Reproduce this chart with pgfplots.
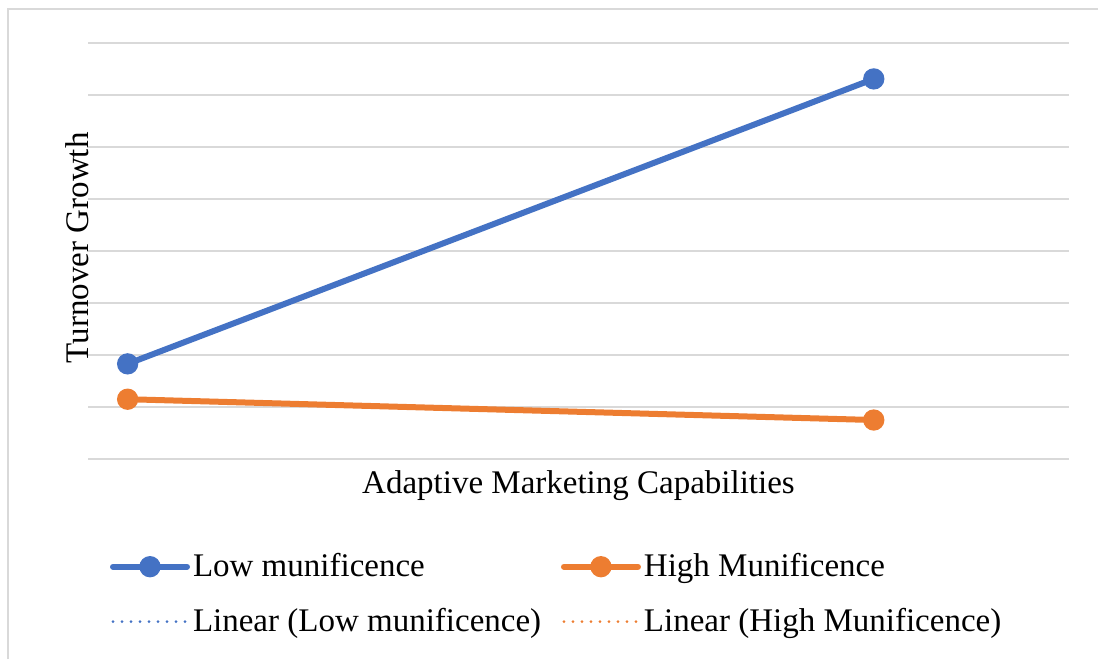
\documentclass[border=0pt]{standalone}
\usepackage{fontspec}
\setmainfont{Liberation Serif}
\usepackage{pgfplots}
\pgfplotsset{compat=1.18}
\definecolor{cblue}{HTML}{4472C4}
\definecolor{corange}{HTML}{ED7D31}
\definecolor{cgrid}{HTML}{D9D9D9}
\newcommand{\lfont}{\fontsize{16.5}{19.8}\selectfont}
\begin{document}
\begin{tikzpicture}[font=\lfont]
\useasboundingbox (0,0) rectangle (549pt,329.5pt);
\draw[cgrid, line width=1pt] (4pt,0) -- (4pt,325pt) -- (549pt,325pt);
\begin{axis}[
  at={(44pt,100.25pt)}, anchor=south west,
  scale only axis, width=490.5pt, height=208pt,
  xmin=0, xmax=1, ymin=0, ymax=8,
  axis line style={draw=none},
  ytick={0,1,...,8}, yticklabels={}, xtick=\empty,
  major tick length=0pt,
  ymajorgrids, grid style={cgrid, line width=1pt},
  clip=false,
  xlabel={Adaptive Marketing Capabilities},
  xlabel style={at={(axis description cs:0.5,0)}, anchor=base, yshift=-17.25pt, inner sep=0pt},
  ylabel={Turnover Growth},
  ylabel style={at={(axis description cs:0,0.533)}, rotate=0, anchor=base, xshift=-5.5pt, inner sep=0pt},
  legend columns=2,
  legend cell align=left,
  legend style={draw=none, fill=none, font=\lfont,
    at={(axis description cs:0,0)}, anchor=north west,
    xshift=9.5pt, yshift=-46.6pt, inner sep=0pt, outer sep=0pt,
    row sep=12.5pt,
    nodes={inner sep=0pt, text height=12.5pt, text depth=2.5pt},
    /tikz/every odd column/.append style={column sep=0pt},
    /tikz/every even column/.append style={column sep=8.4pt}},
  legend image code/.code={
    \path (0pt,0pt) (40pt,0pt);
    \draw[mark repeat=2, mark phase=2, #1] plot coordinates {(1.5pt,0pt) (20pt,0pt) (38.5pt,0pt)};
  },
]
\addplot[cblue, line width=3pt, line cap=round, mark=*, mark size=3.8pt, mark options={solid}] coordinates {(0.0404,1.82) (0.801,7.30)};
\addlegendentry{Low munificence}
\addplot[corange, line width=3pt, line cap=round, mark=*, mark size=3.8pt, mark options={solid}] coordinates {(0.0404,1.14) (0.801,0.74)};
\addlegendentry{High Munificence}
\addplot[cblue, line width=1.5pt, line cap=round, dash pattern=on 0pt off 4.5pt] coordinates {(0.0404,1.82) (0.801,7.30)};
\addlegendentry{Linear (Low munificence)}
\addplot[corange, line width=1.5pt, line cap=round, dash pattern=on 0pt off 4.5pt] coordinates {(0.0404,1.14) (0.801,0.74)};
\addlegendentry{Linear (High Munificence)}
\end{axis}
\end{tikzpicture}
\end{document}
